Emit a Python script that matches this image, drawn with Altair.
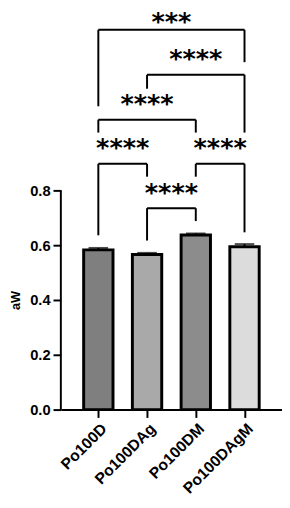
import json
import altair as alt
import pandas as pd

categories = ["Po100D", "Po100DAg", "Po100DM", "Po100DAgM"]
values = [0.583, 0.566, 0.637, 0.594]
errors = [0.007, 0.006, 0.006, 0.010]
fills = ["#7f7f7f", "#a9a9a9", "#8c8c8c", "#dcdcdc"]

# significance comparisons
cmp_left = [0, 2, 1, 0, 1, 0]
cmp_right = [1, 3, 2, 2, 3, 3]
cmp_top = [0.897, 0.897, 0.735, 1.058, 1.222, 1.386]
cmp_left_bottom = [0.636, 0.850, 0.617, 1.011, 1.171, 1.107]
cmp_right_bottom = [0.850, 0.647, 0.688, 1.011, 1.011, 1.268]
cmp_label = ["****", "****", "****", "****", "****", "***"]
cmp_label_y = [0.957, 0.957, 0.794, 1.120, 1.282, 1.418]

y_ticks = [0.0, 0.2, 0.4, 0.6, 0.8]

bars = pd.DataFrame({
    "idx": list(range(len(categories))),
    "cat": categories,
    "value": values,
    "top": [v + e for v, e in zip(values, errors)],
})

legs = pd.DataFrame({
    "x": cmp_left + cmp_right,
    "y": cmp_left_bottom + cmp_right_bottom,
    "y2": cmp_top + cmp_top,
})
tops = pd.DataFrame({"x": cmp_left, "x2": cmp_right, "y": cmp_top})
labels = pd.DataFrame({
    "x": [(a + b) / 2 for a, b in zip(cmp_left, cmp_right)],
    "y": cmp_label_y,
    "label": cmp_label,
})

pad = 0.669
xscale = alt.Scale(domain=[-pad, len(categories) - 1 + pad], nice=False, zero=False)
yscale = alt.Scale(domain=[0, 1.4464], nice=False)

label_expr = json.dumps(categories) + "[datum.value]"

base = alt.Chart(bars)

bar_layer = base.mark_bar(size=30, stroke="black", strokeWidth=3).encode(
    x=alt.X("idx:Q", scale=xscale, title=None,
            axis=alt.Axis(values=list(range(len(categories))), labelExpr=label_expr,
                          labelAngle=-45, labelFont="Liberation Sans", labelFontWeight="bold",
                          labelFontSize=16, labelColor="black", tickSize=8, tickWidth=2,
                          tickColor="black", domainColor="black", domainWidth=2,
                          grid=False, labelPadding=3, labelOverlap=False, labelBound=False,
                          labelFlush=False)),
    y=alt.Y("value:Q", scale=yscale, title="aW",
            axis=alt.Axis(values=y_ticks, format=".1f", domain=False, grid=False,
                          labelFont="Liberation Sans", labelFontWeight="bold",
                          labelFontSize=15, labelColor="black", tickSize=8, tickWidth=2,
                          tickColor="black", labelPadding=3, labelFlush=False,
                          titleFont="Liberation Sans", titleFontWeight="bold",
                          titleFontSize=13, titleColor="black", titleX=-46, titleY=293,
                          titleAlign="center", titleBaseline="middle")),
    color=alt.Color("cat:N", scale=alt.Scale(domain=categories, range=fills), legend=None),
)

err_rule = base.mark_rule(color="black", strokeWidth=2).encode(
    x="idx:Q", y="value:Q", y2="top:Q")
err_cap = base.mark_tick(orient="horizontal", size=20, thickness=2, color="black").encode(
    x="idx:Q", y="top:Q")

y_axis_line = alt.Chart(pd.DataFrame({"y": [y_ticks[0]], "y2": [y_ticks[-1]]})).mark_rule(
    color="black", strokeWidth=2).encode(x=alt.value(0), y="y:Q", y2="y2:Q")

leg_layer = alt.Chart(legs).mark_rule(color="black", strokeWidth=2).encode(
    x="x:Q", y="y:Q", y2="y2:Q")
top_layer = alt.Chart(tops).mark_rule(color="black", strokeWidth=2).encode(
    x="x:Q", x2="x2:Q", y="y:Q")
label_layer = alt.Chart(labels).mark_text(
    font="DejaVu Sans", fontWeight="bold", fontSize=26, baseline="middle", dy=1,
    color="black").encode(x="x:Q", y="y:Q", text="label:N")

chart = alt.layer(
    bar_layer, err_rule, err_cap, y_axis_line, leg_layer, top_layer, label_layer
).properties(
    width=226, height=405, autosize="none",
    padding={"left": 54, "top": 0, "right": 0, "bottom": 87},
    view=alt.ViewBackground(strokeWidth=0, stroke="transparent"),
).configure(background="white").configure_view(
    strokeWidth=0, stroke="transparent"
).configure_axis(grid=False)

chart.save("out.html", embed_options={"renderer": "svg", "actions": False})
